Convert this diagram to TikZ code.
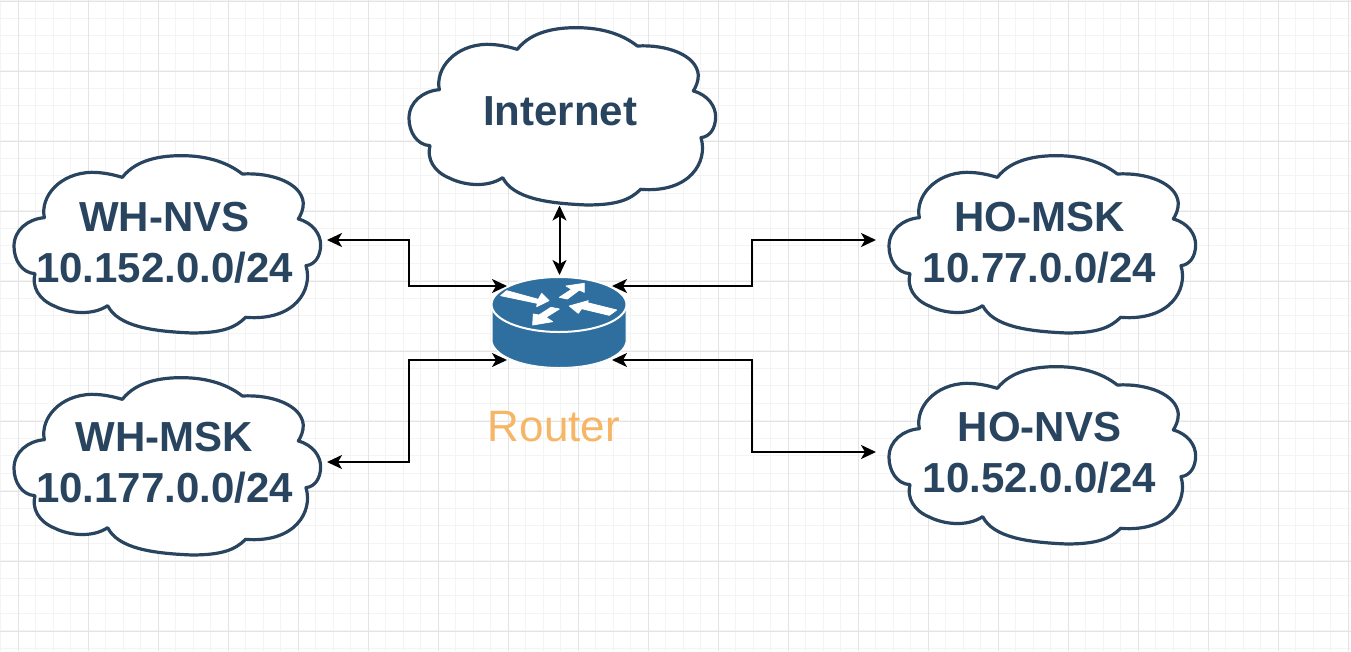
\documentclass[tikz,border=0pt]{standalone}
\usepackage{fontspec}
\setmainfont{Liberation Sans}
\usetikzlibrary{arrows.meta}
\definecolor{navy}{HTML}{28445F}
\definecolor{routerblue}{HTML}{2F6F9F}
\definecolor{routertext}{HTML}{F6B666}
\definecolor{gridmajor}{HTML}{E4E4E4}
\definecolor{gridminor}{HTML}{F4F4F4}
\tikzset{
  cloudline/.style={draw=navy,line width=3.2pt,fill=white,line join=round,x=0.3333pt,y=-0.3333pt},
  cloudlabel/.style={text=navy,font=\fontsize{42}{51}\selectfont\bfseries,align=center,inner sep=0pt,outer sep=0pt,minimum height=100pt},
  link/.style={draw=black,line width=2pt,{Stealth[length=15pt,width=14pt,inset=4pt]}-{Stealth[length=15pt,width=14pt,inset=4pt]}},
  routerarrow/.style={fill=white,draw=white,line width=0.8pt,line join=round},
  routerbox/.style={inner sep=0pt,outer sep=0pt,minimum width=105pt,minimum height=74pt}
}
\newcommand{\cloudat}[2]{%
  \path[cloudline,shift={(#1pt,-#2pt)}]
    (352,103) .. controls (395,48) and (470,38) .. (530,38)
    .. controls (610,38) and (670,60) .. (712,93)
    .. controls (800,88) and (890,120) .. (895,180)
    .. controls (895,200) and (888,215) .. (880,228)
    .. controls (925,240) and (947,275) .. (947,305)
    .. controls (947,340) and (930,365) .. (903,368)
    .. controls (925,440) and (870,535) .. (722,523)
    .. controls (690,555) and (650,570) .. (560,570)
    .. controls (440,565) and (340,550) .. (308,488)
    .. controls (260,520) and (190,510) .. (150,490)
    .. controls (100,470) and (80,430) .. (90,392)
    .. controls (50,390) and (27,350) .. (27,310)
    .. controls (27,260) and (70,228) .. (118,224)
    .. controls (105,160) and (165,90) .. (260,88)
    .. controls (295,88) and (325,95) .. (352,103) -- cycle;}
\begin{document}
\begin{tikzpicture}[x=1pt,y=-1pt]
\useasboundingbox (0,0) rectangle (1351,651);
\fill[white] (0,0) rectangle (1351,651);
% grid
\foreach \k in {0,...,77} {\draw[gridminor,line width=1pt] ({0.5+17.5*\k},0) -- ({0.5+17.5*\k},651);}
\foreach \k in {0,...,37} {\draw[gridminor,line width=1pt] (0,{0.5+17.5*\k}) -- (1351,{0.5+17.5*\k});}
\foreach \k in {0,...,19} {\draw[gridmajor,line width=1pt] ({18+70*\k},0) -- ({18+70*\k},651);}
\foreach \k in {0,...,9} {\draw[gridmajor,line width=1pt] (0,{1+70*\k}) -- (1351,{1+70*\k});}
% clouds
\cloudat{400}{15}
\cloudat{5}{143}
\cloudat{5}{365}
\cloudat{880}{143}
\cloudat{880}{354}
% cloud labels
\node[cloudlabel,minimum height=188pt] (inet) at (560,111.5) {Internet};
\node[cloudlabel,minimum width=325pt] (wn) at (164.5,243) {WH-NVS\\10.152.0.0/24};
\node[cloudlabel,minimum width=325pt] (wm) at (164.5,463) {WH-MSK\\10.177.0.0/24};
\node[cloudlabel,minimum width=327pt] (hm) at (1039.5,243) {HO-MSK\\10.77.0.0/24};
\node[cloudlabel,minimum width=327pt] (hn) at (1039.5,453) {HO-NVS\\10.52.0.0/24};
% router icon
\fill[routerblue,draw=white,line width=1pt]
  (492,305) -- (492,342) .. controls (496,357) and (524,367.5) .. (559.5,367.5)
  .. controls (595,367.5) and (623,357) .. (626,342) -- (626,305) -- cycle;
\fill[routerblue,draw=white,line width=2pt] (559,304.5) ellipse [x radius=67.5,y radius=27.5];
\begin{scope}[shift={(470pt,-260pt)},x=0.3333pt,y=-0.3333pt]
  \path[routerarrow] (92,107) -- (110,92) -- (205,118) -- (215,100) -- (237,122) -- (200,140) -- (202,130) -- cycle;
  \path[routerarrow] (268,112) -- (305,88) -- (288,78) -- (343,70) -- (343,97) -- (328,90) -- (292,117) -- cycle;
  \path[routerarrow] (440,150) -- (352,128) -- (355,122) -- (298,138) -- (325,160) -- (335,146) -- (418,166) -- cycle;
  \path[routerarrow] (243,142) -- (207,165) -- (190,162) -- (188,195) -- (248,185) -- (228,172) -- (268,147) -- cycle;
\end{scope}
\node[routerbox] (router) at (559.5,323) {};
\node[text=routertext,font=\fontsize{44}{50}\selectfont,inner sep=0pt] (routerlabel) at (554,426.5) {Router};
% bus coordinates and ports
\coordinate (lbus) at (409,0);
\coordinate (rbus) at (752,0);
\coordinate (wnp) at ([yshift=3pt]wn.east);
\coordinate (wmp) at ([yshift=1pt]wm.east);
\coordinate (hmp) at ([yshift=3pt]hm.west);
\coordinate (hnp) at ([yshift=1pt]hn.west);
\coordinate (rtop) at ([yshift=11pt]router.north);
\coordinate (inetp) at (inet.south -| rtop);
% connectors
\draw[link] (inetp) -- (rtop);
\draw[link] (wnp) -- (wnp -| lbus) -- (router.north west -| lbus) -- (router.north west);
\draw[link] (wmp) -- (wmp -| lbus) -- (router.south west -| lbus) -- (router.south west);
\draw[link] (hmp) -- (hmp -| rbus) -- (router.north east -| rbus) -- (router.north east);
\draw[link] (hnp) -- (hnp -| rbus) -- (router.south east -| rbus) -- (router.south east);
\end{tikzpicture}
\end{document}
